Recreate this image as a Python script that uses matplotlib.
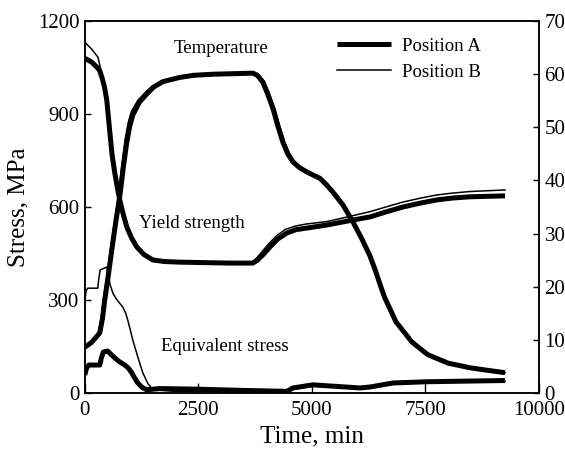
import numpy as np
import matplotlib
matplotlib.use("Agg")
import matplotlib.pyplot as plt

plt.rcParams['font.family'] = ['Liberation Serif', 'DejaVu Serif']

# ---------------- data ----------------
# temperature, deg C (right axis)
temp_a_t = [0, 150, 330, 390, 440, 520, 595, 680, 771, 850, 925, 990, 1057, 1200,
            1366, 1520, 1718, 2093, 2400, 2820, 3700, 3800, 3921, 4030, 4141,
            4250, 4362, 4470, 4582, 4730, 4890, 5030, 5177, 5320, 5463, 5683,
            5904, 6100, 6278, 6400, 6498, 6600, 6850, 7200, 7550, 8000, 8500, 9252]
temp_a = [86, 95, 113, 140, 175, 222, 269, 320, 370, 425, 472, 502, 523, 547,
          563, 576, 586, 594, 598, 600, 602, 598, 585, 562, 536,
          503, 472, 450, 435, 424, 416, 410, 404, 392, 378, 354,
          322, 290, 258, 230, 205, 180, 134, 96, 72, 56, 47, 38]
temp_b_t = [0, 150, 300, 360, 410, 490, 565, 650, 741, 820, 895, 960, 1027, 1170,
            1336, 1490, 1688, 2063, 2400, 2820, 3740, 3840, 3961, 4070, 4181,
            4290, 4402, 4510, 4622, 4760, 4910, 5040, 5177, 5320, 5463, 5683,
            5904, 6100, 6278, 6400, 6498, 6600, 6850, 7200, 7550, 8000, 8500, 9252]
temp_b = [86, 95, 113, 140, 175, 222, 269, 320, 372, 432, 480, 510, 530, 551,
          566, 578, 587, 595, 598, 600, 602, 598, 585, 562, 536,
          503, 472, 450, 435, 424, 416, 410, 404, 392, 378, 354,
          322, 290, 258, 230, 205, 180, 134, 96, 72, 56, 47, 38]

# yield strength, MPa
ys_a_t = [0, 150, 264, 330, 375, 430, 485, 540, 600, 661, 720, 771, 850, 925,
          1030, 1146, 1300, 1498, 1750, 2093, 3194, 3700, 3800, 3950, 4075,
          4250, 4449, 4650, 4890, 5331, 5904, 6278, 6650, 7005, 7400, 7754,
          8100, 8480, 9252]
ys_a = [1080, 1068, 1052, 1040, 1020, 990, 945, 860, 770, 710, 660, 623, 575, 536,
        500, 471, 447, 429, 424, 422, 419, 419, 428, 450, 471,
        497, 516, 527, 532, 542, 558, 568, 585, 600, 613, 623,
        629, 633, 636]
ys_b_t = [0, 150, 290, 375, 430, 485, 540, 600, 661, 720, 771, 850, 925,
          1030, 1146, 1300, 1498, 1750, 2093, 3194, 3650, 3750, 3900, 4040,
          4220, 4420, 4650, 4870, 5330, 5900, 6280, 6650, 7005, 7400, 7754,
          8100, 8480, 9252]
ys_b = [1132, 1110, 1084, 1030, 995, 950, 862, 772, 712, 662, 625, 577, 538,
        502, 473, 448, 430, 425, 423, 420, 420, 430, 455, 480,
        507, 528, 539, 545, 553, 572, 585, 601, 616, 629, 639,
        645, 650, 655]

# equivalent stress, MPa
eq_a_t = [0, 40, 90, 330, 370, 410, 507, 580, 661, 770, 881, 960, 1035, 1100,
          1168, 1260, 1366, 1650, 2500, 3500, 4450, 4582, 5023, 6058, 6278,
          6785, 7534, 9252]
eq_a = [58, 80, 90, 90, 115, 132, 135, 124, 113, 100, 90, 80, 65, 48,
        32, 18, 10, 14, 12, 8, 5, 16, 26, 16, 19,
        32, 36, 40]
eq_b_t = [0, 30, 66, 286, 310, 340, 485, 520, 560, 620, 700, 837, 900, 947,
          1000, 1057, 1170, 1278, 1390, 1498, 2000, 3500, 4450, 4600, 5023,
          6058, 6278, 6785, 7534, 9252]
eq_b = [290, 330, 338, 338, 370, 397, 406, 380, 348, 322, 302, 277, 258, 235,
        205, 171, 115, 65, 30, 10, 5, 3, 2, 12, 22,
        14, 17, 30, 34, 38]

x_ticks = [0, 2500, 5000, 7500, 10000]
y_ticks = [0, 300, 600, 900, 1200]
t_ticks = [0, 100, 200, 300, 400, 500, 600, 700]

thick = 3.6
thin = 1.1

fig = plt.figure(figsize=(5.65, 4.59), dpi=100)
ax = fig.add_axes([0.150, 0.144, 0.804, 0.810])
ax2 = ax.twinx()

style_a = dict(color='black', lw=thick, solid_capstyle='butt', solid_joinstyle='round')
style_b = dict(color='black', lw=thin, solid_joinstyle='round')

ax.plot(ys_a_t, ys_a, label='Position A', **style_a)
ax.plot(ys_b_t, ys_b, label='Position B', **style_b)
ax.plot(eq_a_t, eq_a, **style_a)
ax.plot(eq_b_t, eq_b, **style_b)
ax2.plot(temp_a_t, temp_a, **style_a)
ax2.plot(temp_b_t, temp_b, **style_b)

ax.set_xlim(0, 10000)
ax.set_ylim(0, 1200)
ax2.set_ylim(0, 700)
ax.set_xticks(x_ticks)
ax.set_yticks(y_ticks)
ax2.set_yticks(t_ticks)

ax.tick_params(axis='x', direction='in', length=7, width=1, labelsize=15, pad=6)
ax.tick_params(axis='y', direction='in', length=4.5, width=1, labelsize=15, pad=4)
ax2.tick_params(axis='y', direction='in', length=4.5, width=1, labelsize=15, pad=4)

for a in (ax, ax2):
    for s in a.spines.values():
        s.set_linewidth(1.1)

ax.set_xlabel('Time, min', fontsize=18, labelpad=4)
ax.set_ylabel('Stress, MPa', fontsize=18, labelpad=6)

ax.text(0.300, 0.925, 'Temperature', fontsize=13.5, ha='center', va='center', transform=ax.transAxes)
ax.text(0.236, 0.455, 'Yield strength', fontsize=13.5, ha='center', va='center', transform=ax.transAxes)
ax.text(0.308, 0.124, 'Equivalent stress', fontsize=13.5, ha='center', va='center', transform=ax.transAxes)

ax.legend(loc='upper left', bbox_to_anchor=(0.555, 0.955), frameon=False,
          fontsize=13.5, handlelength=2.9, handletextpad=0.6, labelspacing=0.45,
          borderpad=0, borderaxespad=0)

fig.savefig('out.png', dpi=100)
